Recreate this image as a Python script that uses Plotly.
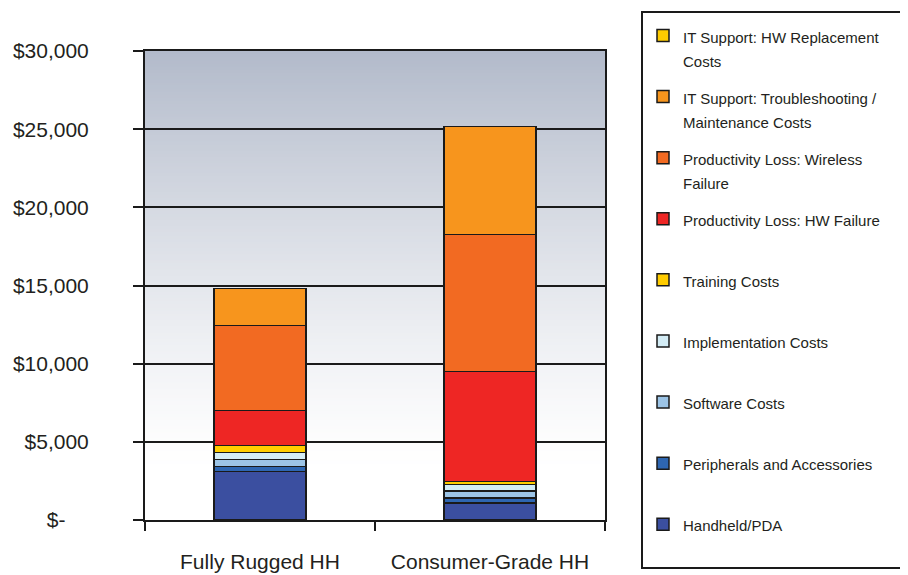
import plotly.graph_objects as go

# ---- data ----
categories = ["Fully Rugged HH", "Consumer-Grade HH"]
series_names = [
    "Handheld/PDA",
    "Peripherals and Accessories",
    "Software Costs",
    "Implementation Costs",
    "Training Costs",
    "Productivity Loss: HW Failure",
    "Productivity Loss: Wireless|Failure",
    "IT Support: Troubleshooting /|Maintenance Costs",
    "IT Support: HW Replacement|Costs",
]
handheld = [3100, 1100]
peripherals = [320, 320]
software = [450, 450]
implementation = [450, 400]
training = [450, 200]
hw_failure = [2240, 7020]
wireless_failure = [5420, 8765]
troubleshooting = [2370, 6930]
hw_replacement = [0, 0]

tick_values = [0, 5000, 10000, 15000, 20000, 25000, 30000]
tick_labels = ["$-\u00a0\u00a0\u00a0\u00a0", "$5,000", "$10,000", "$15,000", "$20,000", "$25,000", "$30,000"]

series_values = [handheld, peripherals, software, implementation, training,
                 hw_failure, wireless_failure, troubleshooting, hw_replacement]
colors = ["#3b4fa0", "#2e66b1", "#9cc4e6", "#d3ecf5", "#ffcc00",
          "#ee2624", "#f26a22", "#f7951d", "#ffcc00"]


def legend_label(name, pad=False):
    parts = name.split("|")
    if pad:
        parts[0] += "\u00a0" * 7
    s = "<br>".join(f"<span style='font-size:15px'>{p}</span>" for p in parts)
    if len(parts) == 1:
        s += "<br>\u00a0"
    return s


fig = go.Figure()
for i, (name, vals, col) in enumerate(zip(series_names, series_values, colors)):
    fig.add_trace(go.Bar(
        x=categories, y=vals, name=legend_label(name, pad=(i == 5)), legendgroup=name,
        legendrank=1000 - i,
        marker=dict(color=col, line=dict(color="#1a1a1a", width=1.5)),
    ))

# gradient background for plot area
shapes = []
top = (178, 186, 202)
n = 150
step = 30000 / n
for i in range(n):
    y0 = i * step
    y1 = (i + 1) * step
    mid = (y0 + y1) / 2
    s = max(0.0, (mid - 3000) / 27000) ** 1.3
    c = tuple(round(255 - s * (255 - t)) for t in top)
    shapes.append(dict(type="rect", xref="paper", yref="y", x0=0, x1=1,
                       y0=y0, y1=min(30000, y1 + step * 0.6),
                       fillcolor=f"rgb{c}", line=dict(width=0), layer="below"))

# page body has an 8px margin, so the figure is 8px smaller and margins shifted
fig.update_layout(
    width=900, height=567,
    margin=dict(l=137, r=303, t=43, b=55, autoexpand=False),
    paper_bgcolor="white", plot_bgcolor="white",
    barmode="stack", bargap=0.6,
    font=dict(family="Liberation Sans, Arial, sans-serif", color="#231f20"),
    shapes=shapes,
    legend=dict(
        x=(633 - 137) / 460, xanchor="left",
        y=(512 - 3) / 469, yanchor="top",
        font=dict(size=18.5, color="#231f20"),
        title=dict(text="\u00a0", font=dict(size=3)),
        valign="top", tracegroupgap=10, traceorder="grouped",
        bordercolor="#1a1a1a", borderwidth=2, bgcolor="white",
        maxheight=600,
    ),
    xaxis=dict(
        type="category", showline=True, linecolor="#1a1a1a", linewidth=2, mirror=True,
        ticks="outside", tickson="boundaries", ticklen=9, tickwidth=2, tickcolor="#1a1a1a",
        tickfont=dict(size=21), ticklabelstandoff=22, showgrid=False, automargin=False,
    ),
    yaxis=dict(
        range=[0, 30000], tickvals=tick_values, ticktext=tick_labels,
        showgrid=True, gridcolor="#1a1a1a", gridwidth=2, zeroline=False,
        showline=True, linecolor="#1a1a1a", linewidth=2, mirror=True,
        ticks="outside", ticklen=10, tickwidth=2, tickcolor="#1a1a1a",
        tickfont=dict(size=21), ticklabelstandoff=40, automargin=False,
    ),
)

fig.write_html("out.html")
